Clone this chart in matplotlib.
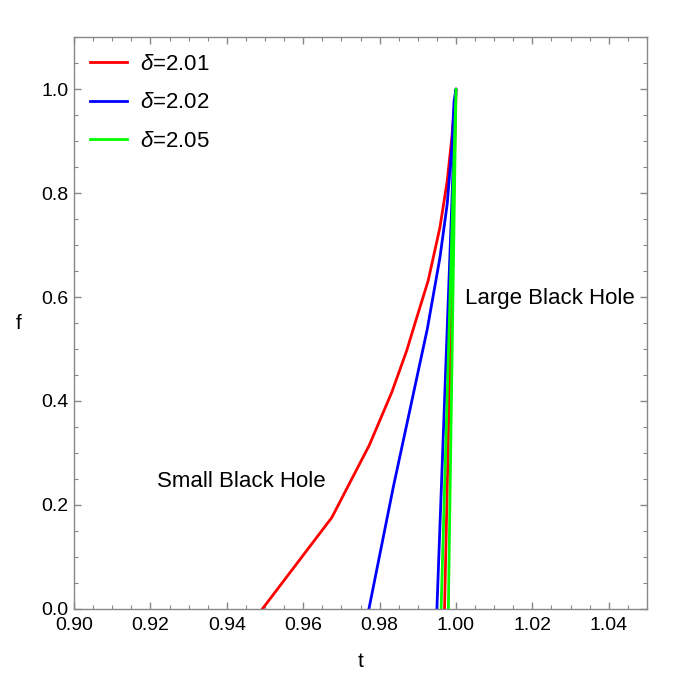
import numpy as np
import matplotlib.pyplot as plt
from matplotlib.ticker import MultipleLocator

plt.rcParams['font.family'] = ['Liberation Sans', 'DejaVu Sans']
plt.rcParams['mathtext.fontset'] = 'custom'
plt.rcParams['mathtext.it'] = 'Liberation Sans:italic'

# t, f values (small branch up to the cusp, then large branch back down)
t_201 = [0.9493, 0.9675, 0.9773, 0.9832, 0.9871, 0.9895, 0.9927, 0.9958, 0.9977, 0.9989, 1.0, 0.9970]
f_201 = [0.0, 0.176, 0.315, 0.417, 0.497, 0.555, 0.631, 0.734, 0.823, 0.906, 1.0, 0.0]

t_202 = [0.9772, 0.9836, 0.9925, 0.9958, 0.9977, 0.9989, 0.9995, 1.0, 0.9950]
f_202 = [0.0, 0.235, 0.539, 0.676, 0.779, 0.887, 0.977, 1.0, 0.0]

t_205 = [0.9961, 1.0, 0.9980]
f_205 = [0.0, 1.0, 0.0]

labels = ['$\\delta$=2.01', '$\\delta$=2.02', '$\\delta$=2.05']

fig = plt.figure(figsize=(6.84, 6.79), dpi=100)
ax = fig.add_axes([0.1082, 0.1031, 0.8377, 0.8424])

ax.plot(t_201, f_201, color='#ff0000', lw=2, label=labels[0])
ax.plot(t_202, f_202, color='#0000ff', lw=2, label=labels[1])
ax.plot(t_205, f_205, color='#00ff00', lw=2, label=labels[2])

ax.set_xlim(0.90, 1.05)
ax.set_ylim(0.0, 1.1)
ax.xaxis.set_major_locator(MultipleLocator(0.02))
ax.xaxis.set_minor_locator(MultipleLocator(0.005))
ax.yaxis.set_major_locator(MultipleLocator(0.2))
ax.yaxis.set_minor_locator(MultipleLocator(0.05))
ax.xaxis.set_major_formatter(lambda v, p: f'{v:.2f}')
ax.yaxis.set_major_formatter(lambda v, p: f'{v:.1f}')

for s in ax.spines.values():
    s.set_color('#888888')
    s.set_linewidth(1.0)
ax.tick_params(which='both', direction='in', top=True, right=True, color='#888888', labelsize=14)
ax.tick_params(which='major', length=5, width=1)
ax.tick_params(axis='x', which='major', pad=6)
ax.tick_params(axis='y', which='major', pad=4)
ax.tick_params(which='minor', length=3, width=0.8)

ax.set_xlabel('t', fontsize=15, labelpad=13)
ax.set_ylabel('f', fontsize=15, rotation=0, labelpad=16, va='center')

ax.text(1.0246, 0.597, 'Large Black Hole', fontsize=16, ha='center', va='center')
ax.text(0.9437, 0.246, 'Small Black Hole', fontsize=16, ha='center', va='center')

ax.legend(loc='upper left', frameon=False, fontsize=16, handlelength=1.7,
          labelspacing=0.8, borderaxespad=0.3, handletextpad=0.55,
          bbox_to_anchor=(0.0, 0.998))

fig.savefig('out.png', dpi=100)
